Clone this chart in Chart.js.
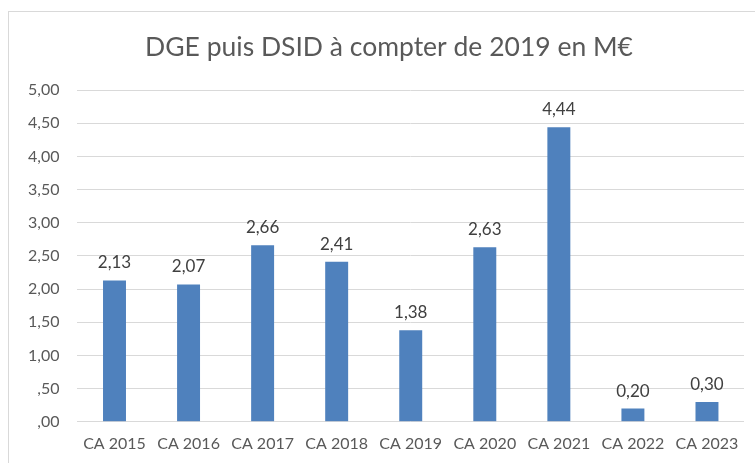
<!DOCTYPE html>
<html>
<head>
<meta charset="utf-8">
<script src="https://cdn.jsdelivr.net/npm/chart.js@4"></script>
<style>
  html, body { margin: 0; padding: 0; background: #fff; }
  #wrap { position: relative; width: 755px; height: 463px; overflow: hidden; }
  #frame { position: absolute; left: 8px; top: 11px; width: 800px; height: 500px; border: 1px solid #d9d9d9; box-sizing: border-box; }
  canvas { position: absolute; left: 0; top: 0; }
</style>
</head>
<body>
<div id="wrap">
  <div id="frame"></div>
  <canvas id="c" width="755" height="463"></canvas>
</div>
<script>
const categories = ["CA 2015", "CA 2016", "CA 2017", "CA 2018", "CA 2019", "CA 2020", "CA 2021", "CA 2022", "CA 2023"];
const values = [2.13, 2.07, 2.66, 2.41, 1.38, 2.63, 4.44, 0.20, 0.30];
const titleText = "DGE puis DSID à compter de 2019 en M€";

const FONT = "Lato, 'Open Sans', sans-serif";
const TXT = "#595959";

function frNum(v) { return v.toFixed(2).replace('.', ','); }

const labelPlugin = {
  id: 'barLabels',
  afterDatasetsDraw(chart) {
    const ctx = chart.ctx;
    const meta = chart.getDatasetMeta(0);
    ctx.save();
    ctx.font = "17px " + FONT;
    ctx.fillStyle = "#404040";
    ctx.textAlign = "center";
    ctx.textBaseline = "bottom";
    meta.data.forEach((bar, i) => {
      ctx.fillText(frNum(values[i]), bar.x, bar.y - 9);
    });
    ctx.restore();
  }
};

const titlePlugin = {
  id: 'offsetTitle',
  afterDraw(chart) {
    const ctx = chart.ctx;
    ctx.save();
    ctx.font = "26.5px " + FONT;
    ctx.fillStyle = TXT;
    ctx.textAlign = "center";
    ctx.textBaseline = "middle";
    ctx.fillText(titleText, 389, 47);
    ctx.restore();
  }
};

new Chart(document.getElementById('c'), {
  type: 'bar',
  data: {
    labels: categories,
    datasets: [{
      data: values,
      backgroundColor: '#4f81bd',
      barPercentage: 0.62,
      categoryPercentage: 0.5
    }]
  },
  options: {
    responsive: false,
    animation: false,
    devicePixelRatio: 1,
    layout: { padding: { left: 10, right: 11, top: 90, bottom: -2 } },
    plugins: {
      legend: { display: false },
      tooltip: { enabled: false },
      title: { display: false }
    },
    scales: {
      x: {
        grid: { display: false, drawTicks: false },
        border: { display: false },
        ticks: { color: TXT, font: { family: FONT, size: 16 }, padding: 12, maxRotation: 0, autoSkip: false }
      },
      y: {
        min: 0, max: 5,
        grid: { color: '#d9d9d9', lineWidth: 1, drawTicks: false },
        border: { display: false },
        ticks: {
          stepSize: 0.5,
          color: TXT,
          font: { family: FONT, size: 16 },
          padding: 18,
          callback: (v) => { let s = frNum(v); if (v < 1) s = s.replace(/^0/, ''); return s; }
        }
      }
    }
  },
  plugins: [labelPlugin, titlePlugin]
});
</script>
</body>
</html>
